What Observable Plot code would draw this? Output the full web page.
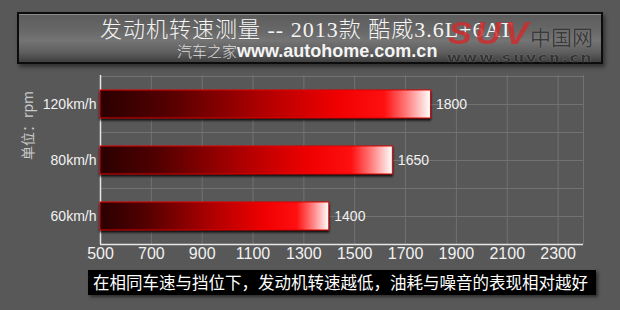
<!DOCTYPE html>
<html>
<head>
<meta charset="utf-8">
<script src="https://cdn.jsdelivr.net/npm/d3@7"></script>
<script src="https://cdn.jsdelivr.net/npm/@observablehq/plot@0.6"></script>
<style>
  html, body { margin: 0; padding: 0; background: #585858; }
  #chart {
    position: relative; width: 620px; height: 310px; overflow: hidden;
    background: #585858;
  }
  #plot { position: absolute; left: 0; top: 0; }
  #plot svg g[aria-label="bar"] { filter: drop-shadow(0px 2px 1px rgba(0,0,0,0.85)); }
  .titlebox {
    position: absolute; left: 17px; top: 12px; width: 582px; height: 48px;
    border: 2px solid #0c0c0c;
    background: linear-gradient(to bottom, #5c5c5c 0%, #686868 35%, #747474 55%, #5e5e5e 80%, #3e3e3e 100%);
    box-shadow: inset 0 1px 0 #8a8a8a, 2px 3px 4px rgba(0,0,0,0.45);
  }
  .title {
    position: absolute; left: 100px; top: 16px; white-space: nowrap;
    font-family: "Liberation Serif", "Noto Sans CJK SC", serif; font-weight: 300;
    font-size: 22px; letter-spacing: 1px; color: #f4f4f4; line-height: 28px;
  }
  .subtitle {
    position: absolute; left: 177px; top: 41px; white-space: nowrap;
    color: #f4f4f4; line-height: 20px;
  }
  .subtitle .cn { font-family: "Noto Sans CJK SC", sans-serif; font-weight: 300; font-size: 15px; color: #dcdcdc; }
  .subtitle .url { font-family: "Liberation Sans", Arial, sans-serif; font-weight: bold; font-size: 18px; }
  .mark-suv {
    position: absolute; left: 448px; top: 16px; white-space: nowrap;
    font-family: "Liberation Sans", Arial, sans-serif; font-weight: bold; font-style: italic;
    font-size: 31px; color: rgba(205, 45, 45, 0.85); letter-spacing: 3px;
    transform-origin: left top; transform: scaleX(1.15);
  }
  .mark-cn {
    position: absolute; left: 530px; top: 21px; white-space: nowrap;
    font-family: "Noto Sans CJK SC", sans-serif; font-size: 21px; color: #3a3a3a;
    text-shadow: 0 0 1px #9a9a9a;
  }
  .mark-url {
    position: absolute; left: 447px; top: 52px; white-space: nowrap;
    font-family: "DejaVu Sans", sans-serif; font-weight: bold; font-size: 12px; color: #333;
    letter-spacing: 1.5px; line-height: 13px; text-shadow: 0 0 1px #a0a0a0;
    transform-origin: left top; transform: scaleX(1.28);
  }
  .caption {
    position: absolute; left: 88px; top: 270px; width: 508px; height: 25px;
    background: #000; color: #fff; box-shadow: 2px 2px 3px rgba(0,0,0,0.5);
    font-family: "Noto Sans CJK SC", sans-serif; font-size: 16.5px; line-height: 25px;
    white-space: nowrap; padding-left: 5px; box-sizing: border-box;
  }
</style>
</head>
<body>
<div id="chart">
  <div id="plot"></div>
  <div class="titlebox"></div>
  <div class="title">发动机转速测量 -- 2013款 酷威3.6L+6AT</div>
  <div class="subtitle"><span class="cn">汽车之家</span><span class="url">www.autohome.com.cn</span></div>
  <div class="mark-suv">SUV</div>
  <div class="mark-cn">中国网</div>
  <div class="mark-url">www.suvcn.cn</div>
  <div class="caption">在相同车速与挡位下，发动机转速越低，油耗与噪音的表现相对越好</div>
</div>
<script>
// Engine speed (rpm) at each cruising speed
const speeds = ["120km/h", "80km/h", "60km/h"];
const rpm = [1800, 1650, 1400];
const xTicks = [500, 700, 900, 1100, 1300, 1500, 1700, 1900, 2100, 2300];
const xDomain = [500, 2400];
const unitLabel = "单位：rpm";

const rows = speeds.map((s, i) => ({speed: s, rpm: rpm[i]}));

const gridColor = "#727272";
const axisColor = "#e6e6e6";

const chart = Plot.plot({
  width: 620,
  height: 310,
  marginLeft: 100,
  marginRight: 37,
  marginTop: 75,
  marginBottom: 66,
  x: {domain: xDomain, axis: null},
  y: {domain: speeds, paddingInner: 0.5, paddingOuter: 0.25, axis: null},
  style: {background: "transparent", color: "#f2f2f2", fontFamily: "'Liberation Sans', Arial, sans-serif"},
  marks: [
    // grid
    Plot.ruleX(xTicks, {stroke: gridColor, strokeWidth: 1}),
    Plot.ruleX([xDomain[1]], {stroke: gridColor, strokeWidth: 1}),
    Plot.ruleY(speeds, {stroke: gridColor, strokeWidth: 1}),
    Plot.ruleY(speeds, {stroke: gridColor, strokeWidth: 1, dy: -28}),
    // axis lines
    Plot.ruleX([xDomain[0]], {stroke: axisColor, strokeWidth: 1.5}),
    Plot.ruleY([speeds[speeds.length - 1]], {stroke: axisColor, strokeWidth: 1.5, dy: 28}),
    // bars
    Plot.barX(rows, {
      x1: () => xDomain[0], x2: "rpm", y: "speed",
      fill: "url(#rpmGradient)", stroke: "#e40000", strokeWidth: 1
    }),
    // value labels
    Plot.text(rows, {
      x: "rpm", y: "speed", text: d => String(d.rpm),
      textAnchor: "start", dx: 5, fontSize: 14, fill: "#f2f2f2"
    }),
    // category labels
    Plot.text(speeds, {
      y: d => d, frameAnchor: "left", textAnchor: "end", dx: -4,
      fontSize: 14, fill: "#f2f2f2"
    }),
    // x tick labels
    Plot.text(xTicks, {
      x: d => d, frameAnchor: "bottom", lineAnchor: "top", dy: 3,
      text: d => String(d), fontSize: 16, fill: "#f2f2f2"
    }),
    // unit label
    Plot.text([unitLabel], {
      frameAnchor: "left", rotate: -90, dx: -72, fontSize: 14,
      fill: "#c8c8c8", fontFamily: "'Noto Sans CJK SC', sans-serif"
    })
  ]
});

// bar gradient: dark red to bright red, fading to white at the tip
d3.select(chart).insert("defs", ":first-child").html(`
  <linearGradient id="rpmGradient" x1="0" y1="0" x2="1" y2="0">
    <stop offset="0" stop-color="#2a0000"/>
    <stop offset="0.2" stop-color="#520000"/>
    <stop offset="0.5" stop-color="#b20000"/>
    <stop offset="0.72" stop-color="#f00000"/>
    <stop offset="0.86" stop-color="#ff1010"/>
    <stop offset="0.93" stop-color="#ff8080"/>
    <stop offset="1" stop-color="#ffffff"/>
  </linearGradient>`);

document.getElementById("plot").appendChild(chart);
</script>
</body>
</html>
